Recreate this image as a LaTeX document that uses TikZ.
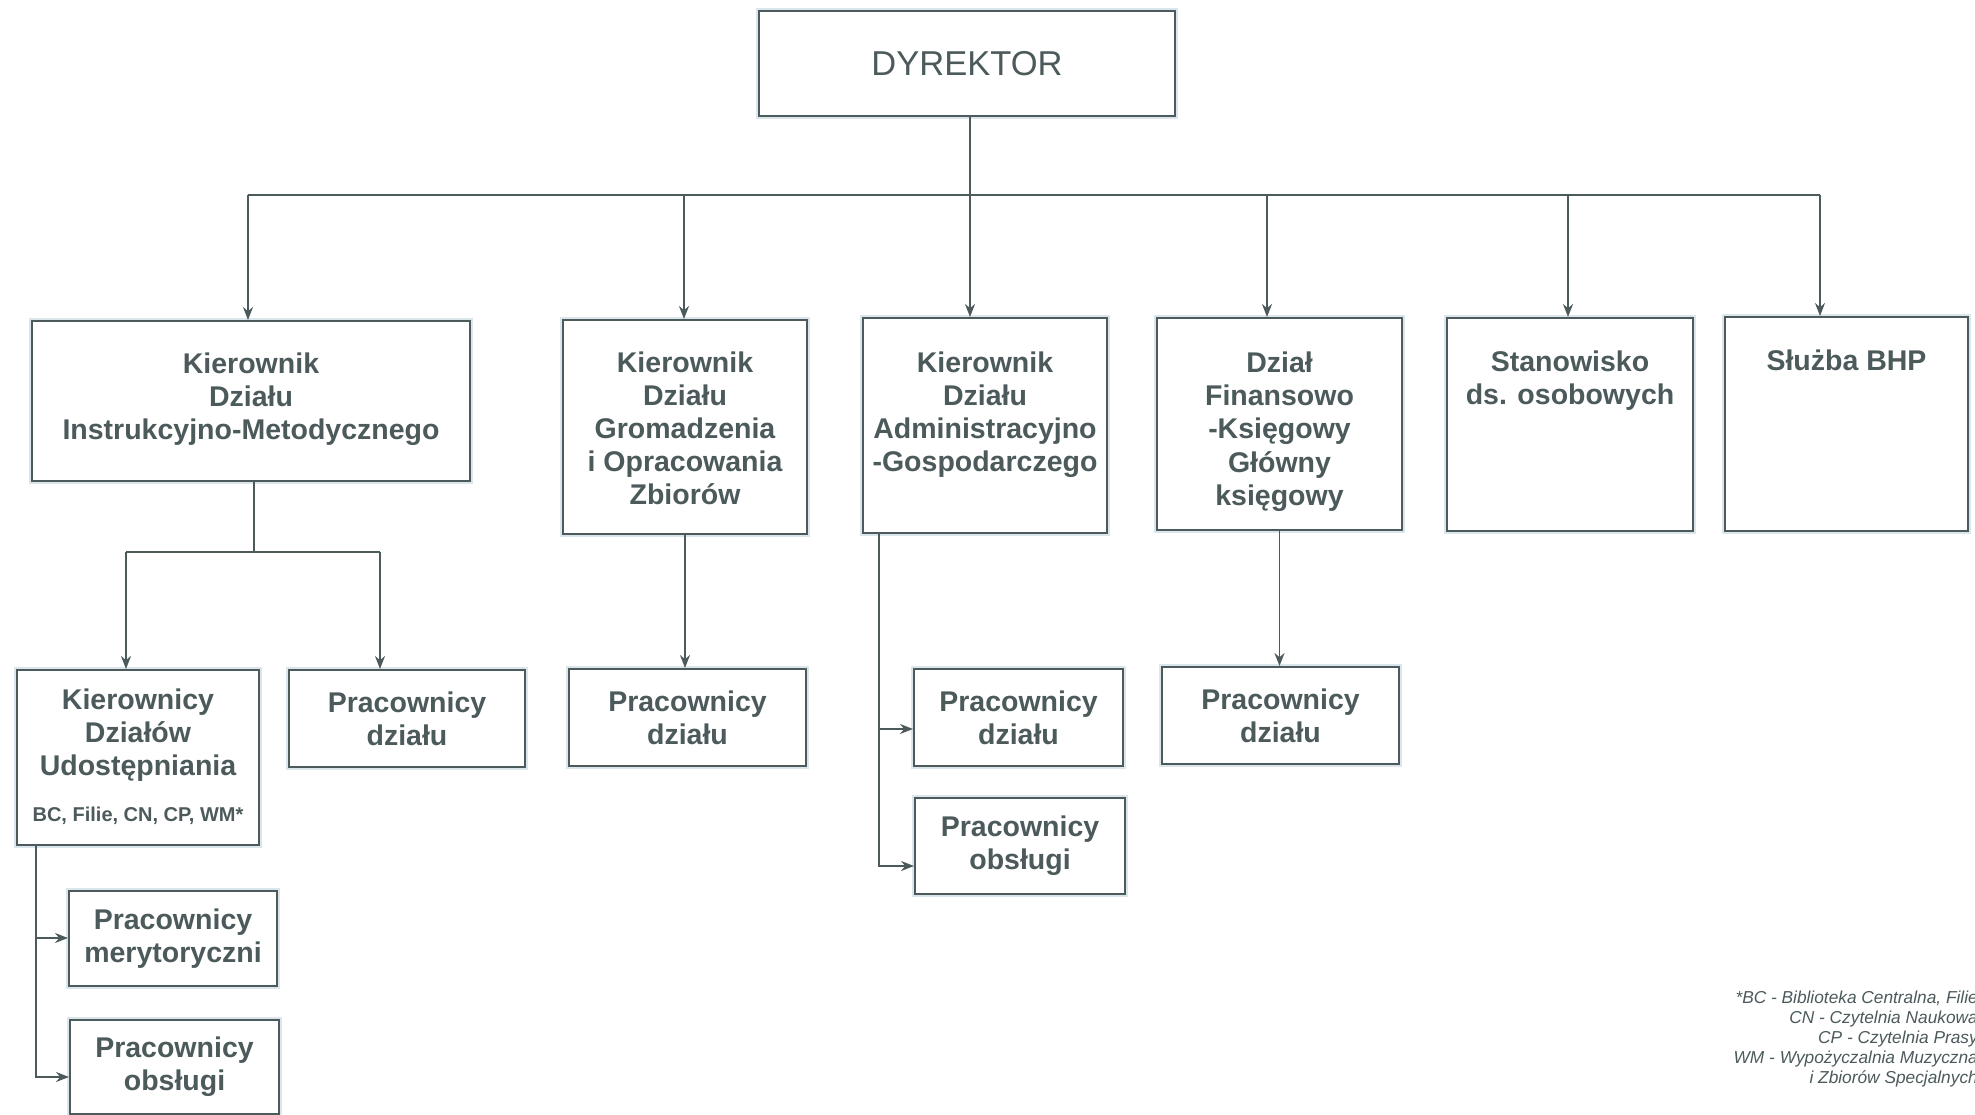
\documentclass[tikz,border=0pt]{standalone}
\usepackage{fontspec}
\setmainfont{Liberation Sans}
\usetikzlibrary{arrows.meta}
\definecolor{ink}{RGB}{76,90,92}
\definecolor{halo}{RGB}{218,230,236}
\begin{document}
\begin{tikzpicture}[x=1pt,y=-1pt,
  box/.style={draw=ink, line width=2pt, fill=white, preaction={draw=halo, line width=6pt},
    text=ink, font=\fontsize{28.5}{33}\selectfont\bfseries, align=center, inner sep=0pt, anchor=north west},
  txt/.style={text=ink, font=\fontsize{28.5}{33}\selectfont\bfseries, align=center, inner sep=0pt},
  ln/.style={draw=ink, line width=1.8pt},
  arr/.style={draw=ink, line width=1.8pt, -{Stealth[length=13pt,width=10pt]}}
]
\fill[white] (0,0) rectangle (1975,1115);
\useasboundingbox (0,0) rectangle (1975,1115);

% top
\node[box, minimum width=416pt, minimum height=105pt, font=\fontsize{34.5}{40}\selectfont] (dyr) at (758,10) {DYREKTOR};

% row 1
\node[box, minimum width=438pt, minimum height=160pt] (kdim) at (31,320) {};
\node[box, minimum width=244pt, minimum height=214pt] (kdg) at (562,319) {};
\node[box, minimum width=244pt, minimum height=215pt] (kda) at (862,317) {};
\node[box, minimum width=245pt, minimum height=212pt] (dfk) at (1156,317) {};
\node[box, minimum width=246pt, minimum height=213pt] (stan) at (1446,317) {};
\node[box, minimum width=243pt, minimum height=214pt] (bhp) at (1724,316) {};

\node[txt, anchor=north] (kdim-t) at ([yshift=-33pt]kdim.north) {Kierownik\\Działu\\Instrukcyjno-Metodycznego};
\node[txt, anchor=north] (kdg-t) at ([yshift=-33pt]kdg.north) {Kierownik\\Działu\\Gromadzenia\\i Opracowania\\Zbiorów};
\node[txt, anchor=north] (kda-t) at ([yshift=-35pt]kda.north) {Kierownik\\Działu\\Administracyjno\\-Gospodarczego};
\node[txt, anchor=north] (dfk-t) at ([yshift=-35pt]dfk.north) {Dział\\Finansowo\\-Księgowy\\[1pt]Główny\\księgowy};
\node[txt, anchor=north] (stan-t) at ([yshift=-34pt]stan.north) {Stanowisko\\ds. osobowych};
\node[txt, anchor=north] (bhp-t) at ([yshift=-34pt]bhp.north) {Służba BHP};

% row 2
\node[box, minimum width=242pt, minimum height=175pt] (kdu) at (16,669) {};
\node[txt, anchor=north] (kdu-t) at ([yshift=-20pt]kdu.north) {Kierownicy\\Działów\\Udostępniania};
\node[txt, font=\fontsize{20}{24}\selectfont\bfseries] (kdu-s) at ([yshift=-147pt]kdu.north) {BC, Filie, CN, CP, WM*};
\node[box, minimum width=236pt, minimum height=97pt] (pd1) at (288,669) {Pracownicy\\działu};
\node[box, minimum width=237pt, minimum height=97pt] (pd2) at (568,668) {Pracownicy\\działu};
\node[box, minimum width=209pt, minimum height=97pt] (pd3) at (913,668) {Pracownicy\\działu};
\node[box, minimum width=210pt, minimum height=96pt] (po3) at (914,797) {Pracownicy\\obsługi};
\node[box, minimum width=237pt, minimum height=97pt] (pd4) at (1161,666) {Pracownicy\\działu};
\node[box, minimum width=208pt, minimum height=95pt] (pm) at (68,890) {Pracownicy\\merytoryczni};
\node[box, minimum width=209pt, minimum height=94pt] (po1) at (69,1019) {Pracownicy\\obsługi};

% bus
\coordinate (b1) at (248,195);
\coordinate (b2) at (684,195);
\coordinate (b3) at (970,195);
\coordinate (b4) at (1267,195);
\coordinate (b5) at (1568,195);
\coordinate (b6) at (1820,195);
\draw[ln] (dyr.south -| b3) -- (b3);
\draw[ln] (b1) -- (b6);
\draw[arr] (b1) -- (b1 |- kdim.north);
\draw[arr] (b2) -- (b2 |- kdg.north);
\draw[arr] (b3) -- (b3 |- kda.north);
\draw[arr] (b4) -- (b4 |- dfk.north);
\draw[arr] (b5) -- (b5 |- stan.north);
\draw[arr] (b6) -- (b6 |- bhp.north);

% KDIM subtree
\coordinate (j1) at (254,552);
\coordinate (j1a) at (126,552);
\coordinate (j1b) at (380,552);
\draw[ln] (kdim.south -| j1) -- (j1);
\draw[ln] (j1a) -- (j1b);
\draw[arr] (j1a) -- (j1a |- kdu.north);
\draw[arr] (j1b) -- (j1b |- pd1.north);

% KDG
\draw[arr] (kdg.south) -- (kdg.south |- pd2.north);

% KDA
\coordinate (k3) at (879,729);
\coordinate (k3b) at (879,866);
\draw[arr] (kda.south -| k3) |- (k3b -| po3.west);
\draw[arr] (k3) -- (k3 -| pd3.west);

% DFK
\draw[arr] (dfk.south) -- (dfk.south |- pd4.north);

% KDU
\coordinate (k1) at (36,938);
\coordinate (k1b) at (36,1077);
\draw[arr] (kdu.south -| k1) |- (k1b -| po1.west);
\draw[arr] (k1) -- (k1 -| pm.west);

% footnote
\node[anchor=north east, align=right, text=ink, font=\fontsize{17.3}{20}\selectfont\itshape, inner sep=0pt] (note) at (1978,991)
  {*BC - Biblioteka Centralna, Filie\\CN - Czytelnia Naukowa\\CP - Czytelnia Prasy\\WM - Wypożyczalnia Muzyczna\\i Zbiorów Specjalnych};
\end{tikzpicture}
\end{document}
